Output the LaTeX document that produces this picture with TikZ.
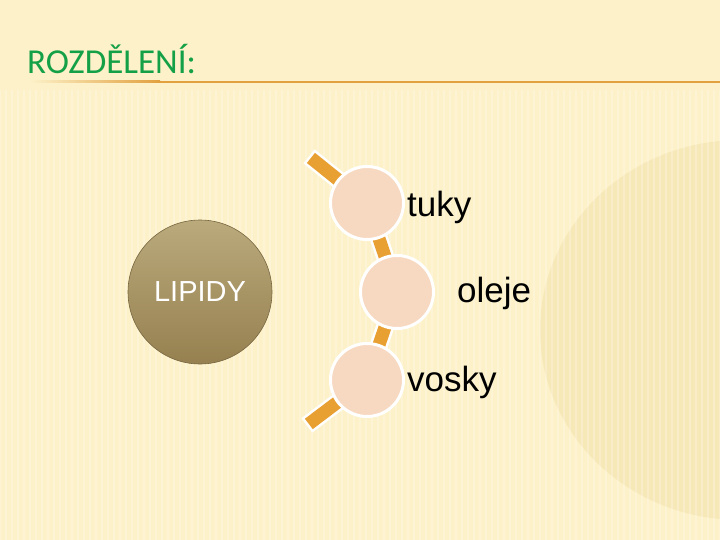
\documentclass[tikz,border=0pt]{standalone}
\usepackage{fontspec}
\setmainfont{Liberation Sans}
\newfontfamily\titlefont{Carlito}
\definecolor{paper}{RGB}{252,241,200}
\definecolor{paperdark}{RGB}{236,214,150}
\definecolor{titlegreen}{RGB}{20,160,70}
\definecolor{lineorange}{RGB}{226,160,62}
\definecolor{baroran}{RGB}{232,160,50}
\definecolor{peach}{RGB}{247,216,192}
\definecolor{lipidtop}{RGB}{186,170,124}
\definecolor{lipidbot}{RGB}{150,128,80}
\tikzset{
  item/.style={circle, draw=white, line width=3pt, fill=peach, minimum size=73pt, inner sep=0pt},
  bar/.style={draw=white, double=baroran, double distance=13pt, line width=2.5pt, line cap=rect},
  label/.style={anchor=base west, inner sep=0pt, font=\fontsize{35}{38}\selectfont}
}
\begin{document}
\begin{tikzpicture}[x=1pt,y=-1pt]
\useasboundingbox (0,0) rectangle (720,540);
% background
\fill[paper] (0,0) rectangle (720,540);
\begin{scope}
  \clip (0,0) rectangle (720,540);
  \fill[paperdark, opacity=0.3] (740,330) ellipse (200 and 190);
  \foreach \x in {0,6,...,720}
    \draw[white, opacity=0.25, line width=2pt] (\x,90) -- (\x,540);
\end{scope}
% title
\node[anchor=base west, inner sep=0pt, text=titlegreen, font=\titlefont\fontsize{35}{38}\selectfont] (title) at (27,74) {ROZDĚLENÍ:};
\shade[left color=paper, right color=lineorange] (30,81) rectangle (160,83);
\fill[lineorange] (160,81) rectangle (720,83);
% main circle
\node[circle, minimum size=144pt, inner sep=0pt, top color=lipidtop, bottom color=lipidbot, draw=lipidbot!80!black, line width=0.6pt,
      text=white, font=\fontsize{29}{32}\selectfont] (lipidy) at (200,292) {LIPIDY};
% chain
\coordinate (t0) at (316,162);
\coordinate (c1) at (367,203);
\coordinate (c2) at (397,292);
\coordinate (c3) at (367,380);
\coordinate (t4) at (314,420);
\draw[bar] (t0) -- (c1);
\draw[bar] (c1) -- (c2);
\draw[bar] (c2) -- (c3);
\draw[bar] (c3) -- (t4);
\node[item] (tuky) at (c1) {};
\node[item] (oleje) at (c2) {};
\node[item] (vosky) at (c3) {};
\node[label] (tukytext) at (407,216) {tuky};
\node[label] (olejetext) at (457,302) {oleje};
\node[label] (voskytext) at (407,391) {vosky};
\end{tikzpicture}
\end{document}
